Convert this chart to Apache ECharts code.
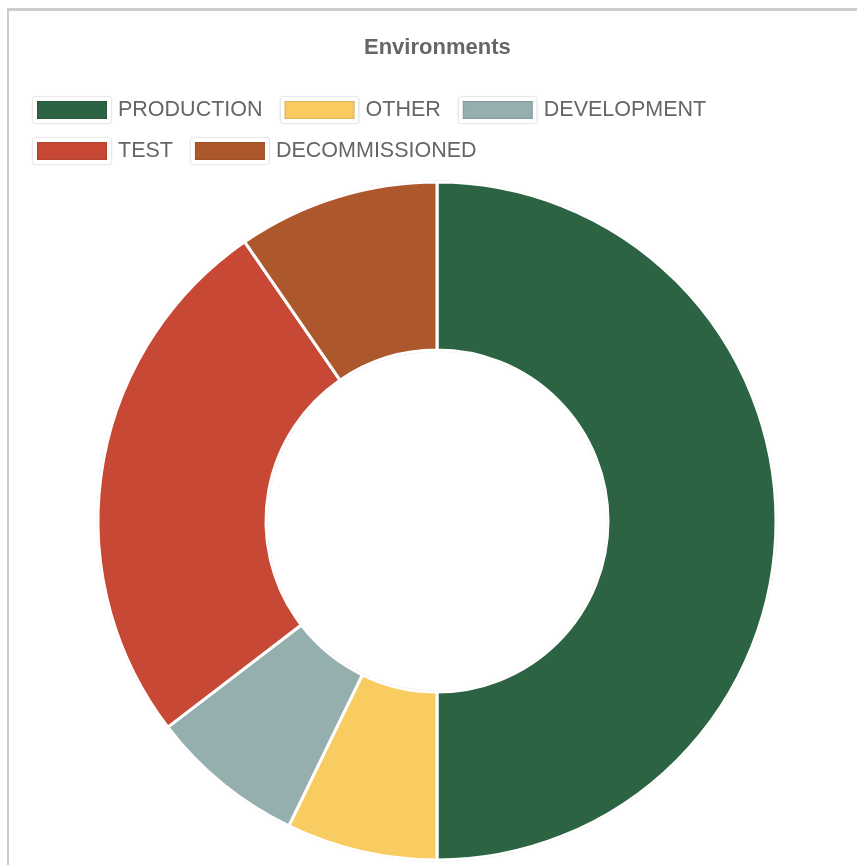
<!DOCTYPE html>
<html>
<head>
<meta charset="utf-8">
<script src="https://cdn.jsdelivr.net/npm/echarts@6/dist/echarts.min.js"></script>
<style>
  html, body { margin: 0; padding: 0; background: #fff; overflow: hidden; }
  #frame { position: absolute; left: 7px; top: 8px; width: 860px; height: 870px;
           border-top: 3px solid #cccccc; border-left: 2px solid #cccccc; box-sizing: border-box; }
  #chart { position: absolute; left: 0; top: 0; width: 857px; height: 865px; }
</style>
</head>
<body>
<div id="frame"></div>
<div id="chart"></div>
<script>
const titleText = 'Environments';
const categories = ['PRODUCTION', 'OTHER', 'DEVELOPMENT', 'TEST', 'DECOMMISSIONED'];
const values = [50, 7.2, 7.4, 25.8, 9.6];
const colors = ['#2c6343', '#f9cc61', '#95aeae', '#c74834', '#ad572c'];

const chart = echarts.init(document.getElementById('chart'), null, { renderer: 'canvas' });
const fontFamily = '"Liberation Sans", Arial, Helvetica, sans-serif';

chart.setOption({
  animation: false,
  title: {
    text: titleText,
    left: 364,
    top: 37,
    padding: 0,
    textStyle: { fontFamily, fontSize: 22, fontWeight: 'bold', color: '#666666' }
  },
  legend: {
    data: categories,
    left: 33,
    top: 97,
    padding: 0,
    width: 720,
    itemWidth: 74,
    itemHeight: 22,
    itemGap: 15,
    icon: 'rect',
    itemStyle: { borderColor: '#ffffff', borderWidth: 4, shadowBlur: 2, shadowColor: 'rgba(0,0,0,0.35)' },
    textStyle: { fontFamily, fontSize: 21.5, lineHeight: 22, color: '#666666', padding: [0, 3, 0, 4] }
  },
  series: [
    {
      type: 'pie',
      silent: true,
      center: [437, 521],
      radius: [170, 340],
      label: { show: false },
      labelLine: { show: false },
      itemStyle: { color: '#ffffff', borderColor: '#d6d6d6', borderWidth: 1 },
      data: [{ name: '_ring', value: 1 }]
    },
    {
      type: 'pie',
      center: [437, 521],
      radius: [171, 339],
      startAngle: 90,
      clockwise: true,
      label: { show: false },
      labelLine: { show: false },
      itemStyle: { borderColor: '#ffffff', borderWidth: 3 },
      data: categories.map((c, i) => ({ name: c, value: values[i], itemStyle: { color: colors[i] } }))
    }
  ]
});
</script>
</body>
</html>
